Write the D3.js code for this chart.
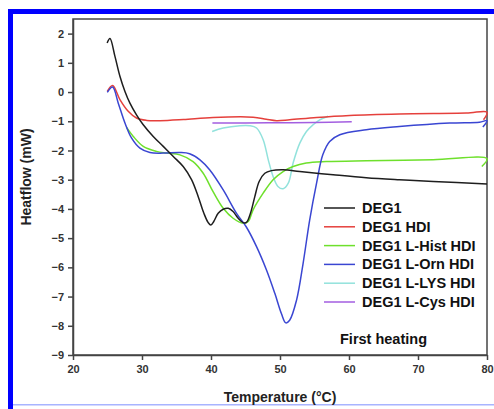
<!DOCTYPE html>
<meta charset="utf-8">
<title>Heatflow, first heating</title>
<style>
body { margin: 0; background: #fff; }
svg { display: block; font-family: "Liberation Sans", Arial, sans-serif; }
.axis text { font-size: 11px; font-weight: bold; fill: #333; }
.axis path, .axis line { stroke: #444; stroke-width: 1.5px; fill: none; }
.axislabel { font-size: 14px; font-weight: bold; fill: #222; }
.legend text { font-size: 14.5px; font-weight: bold; fill: #111; }
.curve { fill: none; stroke-width: 1.5px; }
</style>
<svg class="chart"></svg>
<script src="https://cdn.jsdelivr.net/npm/d3@7"></script>
<script>

// tick values
var xTicks = [20, 30, 40, 50, 60, 70, 80];
var yTicks = [-9, -8, -7, -6, -5, -4, -3, -2, -1, 0, 1, 2];

var names = ["DEG1", "DEG1 HDI", "DEG1 L-Hist HDI", "DEG1 L-Orn HDI", "DEG1 L-LYS HDI", "DEG1 L-Cys HDI"];
var colors = ["#1e1e1e", "#e5403c", "#6ee02c", "#3a46d2", "#92e2dc", "#a35ee0"];

// [temperature, heatflow]
var deg1 = [[24.95,1.68],[25.36,1.83],[26.08,1.22],[26.8,0.54],[27.53,0.02],[28.25,-0.38],[29.2,-0.78],
  [30.18,-1.12],[31.63,-1.52],[33.08,-1.86],[34.5,-2.2],[35.97,-2.55],[37.18,-3.0],[38.15,-3.58],
  [38.97,-4.15],[39.6,-4.47],[39.98,-4.55],[40.4,-4.43],[41.04,-4.15],[41.77,-4.01],[42.5,-3.98],
  [43.2,-4.09],[43.94,-4.32],[44.66,-4.47],[45.14,-4.46],[45.72,-4.15],[46.35,-3.58],[46.98,-3.06],
  [47.8,-2.78],[48.76,-2.69],[50.45,-2.66],[52.87,-2.72],[57.7,-2.83],[62.5,-2.93],[67.3,-3.0],
  [72.2,-3.06],[80,-3.15]];

var deg1Hdi = [[24.97,0.02],[25.74,0.22],[26.8,-0.26],[28.0,-0.66],[29.2,-0.89],[30.67,-0.97],
  [32.6,-0.98],[36,-0.94],[40.3,-0.87],[46.1,-0.86],[48,-0.93],[49.5,-0.98],[51.4,-0.95],
  [55.3,-0.87],[60.1,-0.8],[67.3,-0.75],[77,-0.72],[80,-0.69],[79.5,-0.95]];

var hist = [[27.77,-1.21],[28.74,-1.52],[30.18,-1.86],[32.1,-2.03],[33.56,-2.09],[35.5,-2.15],
  [37.4,-2.38],[38.87,-2.78],[40.3,-3.41],[41.77,-3.98],[43.2,-4.32],[44.66,-4.49],[45.4,-4.43],
  [46.1,-4.03],[47.56,-3.46],[49,-3.0],[50.45,-2.72],[51.9,-2.55],[53.8,-2.43],[56.7,-2.38],
  [62.5,-2.35],[72.2,-2.32],[80,-2.28],[79.25,-2.55]];

var orn = [[24.97,-0.01],[25.74,0.17],[26.56,-0.38],[27.53,-1.06],[28.5,-1.58],[29.7,-1.92],
  [31.15,-2.07],[33.1,-2.09],[35.5,-2.07],[36.9,-2.11],[38.4,-2.32],[39.8,-2.66],[41.77,-3.35],
  [43.7,-4.15],[45.1,-4.61],[46.6,-5.29],[48.04,-6.09],[49.25,-6.89],[50.2,-7.58],[50.84,-7.9],
  [51.4,-7.81],[52.4,-7.12],[53.35,-5.86],[54.3,-4.38],[55.3,-3.12],[56.2,-2.15],[57.2,-1.69],
  [58.66,-1.46],[62.5,-1.29],[67.3,-1.18],[74.6,-1.06],[78.9,-1.03],[80,-0.98],[79.4,-1.2]];

var lys = [[40.17,-1.35],[41.77,-1.23],[44.2,-1.15],[45.6,-1.15],[46.6,-1.23],[47.56,-1.63],
  [48.3,-2.32],[49,-2.89],[49.7,-3.23],[50.45,-3.31],[51.2,-3.12],[51.9,-2.43],[52.87,-1.75],
  [53.83,-1.35],[54.8,-1.12],[55.76,-0.95],[56.97,-0.83]];

var cys = [[40.2,-1.06],[45,-1.06],[50,-1.05],[55,-1.04],[60.4,-1.02]];

var series = [deg1, deg1Hdi, hist, orn, lys, cys];

var W = 494, H = 409;
var margin = {top: 19, right: 7, bottom: 54, left: 73},
    width = W - margin.left - margin.right,
    height = H - margin.top - margin.bottom;

var svg = d3.select(".chart").attr("width", W).attr("height", H);

// blue frame round the figure
svg.append("rect").attr("x", 8).attr("y", 9).attr("width", 5).attr("height", H - 9).attr("fill", "#0000ff");
svg.append("rect").attr("x", 8).attr("y", 9).attr("width", W - 8).attr("height", 5).attr("fill", "#0000ff");
svg.append("rect").attr("x", 13).attr("y", 404).attr("width", W - 13).attr("height", 1.5).attr("fill", "#a8b4ff");

var x = d3.scaleLinear().domain([20, 80]).range([0, width]);
var y = d3.scaleLinear().domain([-9, 2.5]).range([height, 0]);

var chart = svg.append("g")
    .attr("transform", "translate(" + margin.left + "," + margin.top + ")");

// box
chart.append("rect")
    .attr("width", width).attr("height", height)
    .attr("fill", "none").attr("stroke", "#444").attr("stroke-width", 1.5);

chart.append("g")
    .attr("class", "x axis")
    .attr("transform", "translate(0," + height + ")")
    .call(d3.axisBottom(x).tickValues(xTicks).tickSizeInner(5).tickSizeOuter(0).tickPadding(5));

chart.append("g")
    .attr("class", "y axis")
    .call(d3.axisLeft(y).tickValues(yTicks).tickSizeInner(5).tickSizeOuter(0).tickPadding(4));

var line = d3.line()
    .x(function(d) { return x(d[0]); })
    .y(function(d) { return y(d[1]); })
    .curve(d3.curveCatmullRom.alpha(0.5));

// draw lighter curves first so the dark ones sit on top
[4, 5, 1, 2, 3, 0].forEach(function(i) {
  chart.append("path")
      .attr("class", "curve")
      .attr("d", line(series[i]))
      .attr("stroke", colors[i]);
});

var legend = svg.append("g").attr("class", "legend");
names.forEach(function(n, i) {
  var cy = 208 + i * 18.8;
  legend.append("line")
      .attr("x1", 324).attr("x2", 355).attr("y1", cy).attr("y2", cy)
      .attr("stroke", colors[i]).attr("stroke-width", 1.5);
  legend.append("text")
      .attr("x", 362).attr("y", cy + 5)
      .text(n);
});

svg.append("text")
    .attr("class", "legend")
    .attr("x", 340).attr("y", 344)
    .style("font-size", "14.5px").style("font-weight", "bold").style("fill", "#111")
    .text("First heating");

svg.append("text")
    .attr("class", "axislabel")
    .attr("x", margin.left + width / 2).attr("y", 402)
    .style("text-anchor", "middle")
    .text("Temperature (°C)");

svg.append("text")
    .attr("class", "axislabel")
    .attr("transform", "translate(31,177) rotate(-90)")
    .style("text-anchor", "middle")
    .text("Heatflow (mW)");

</script>
